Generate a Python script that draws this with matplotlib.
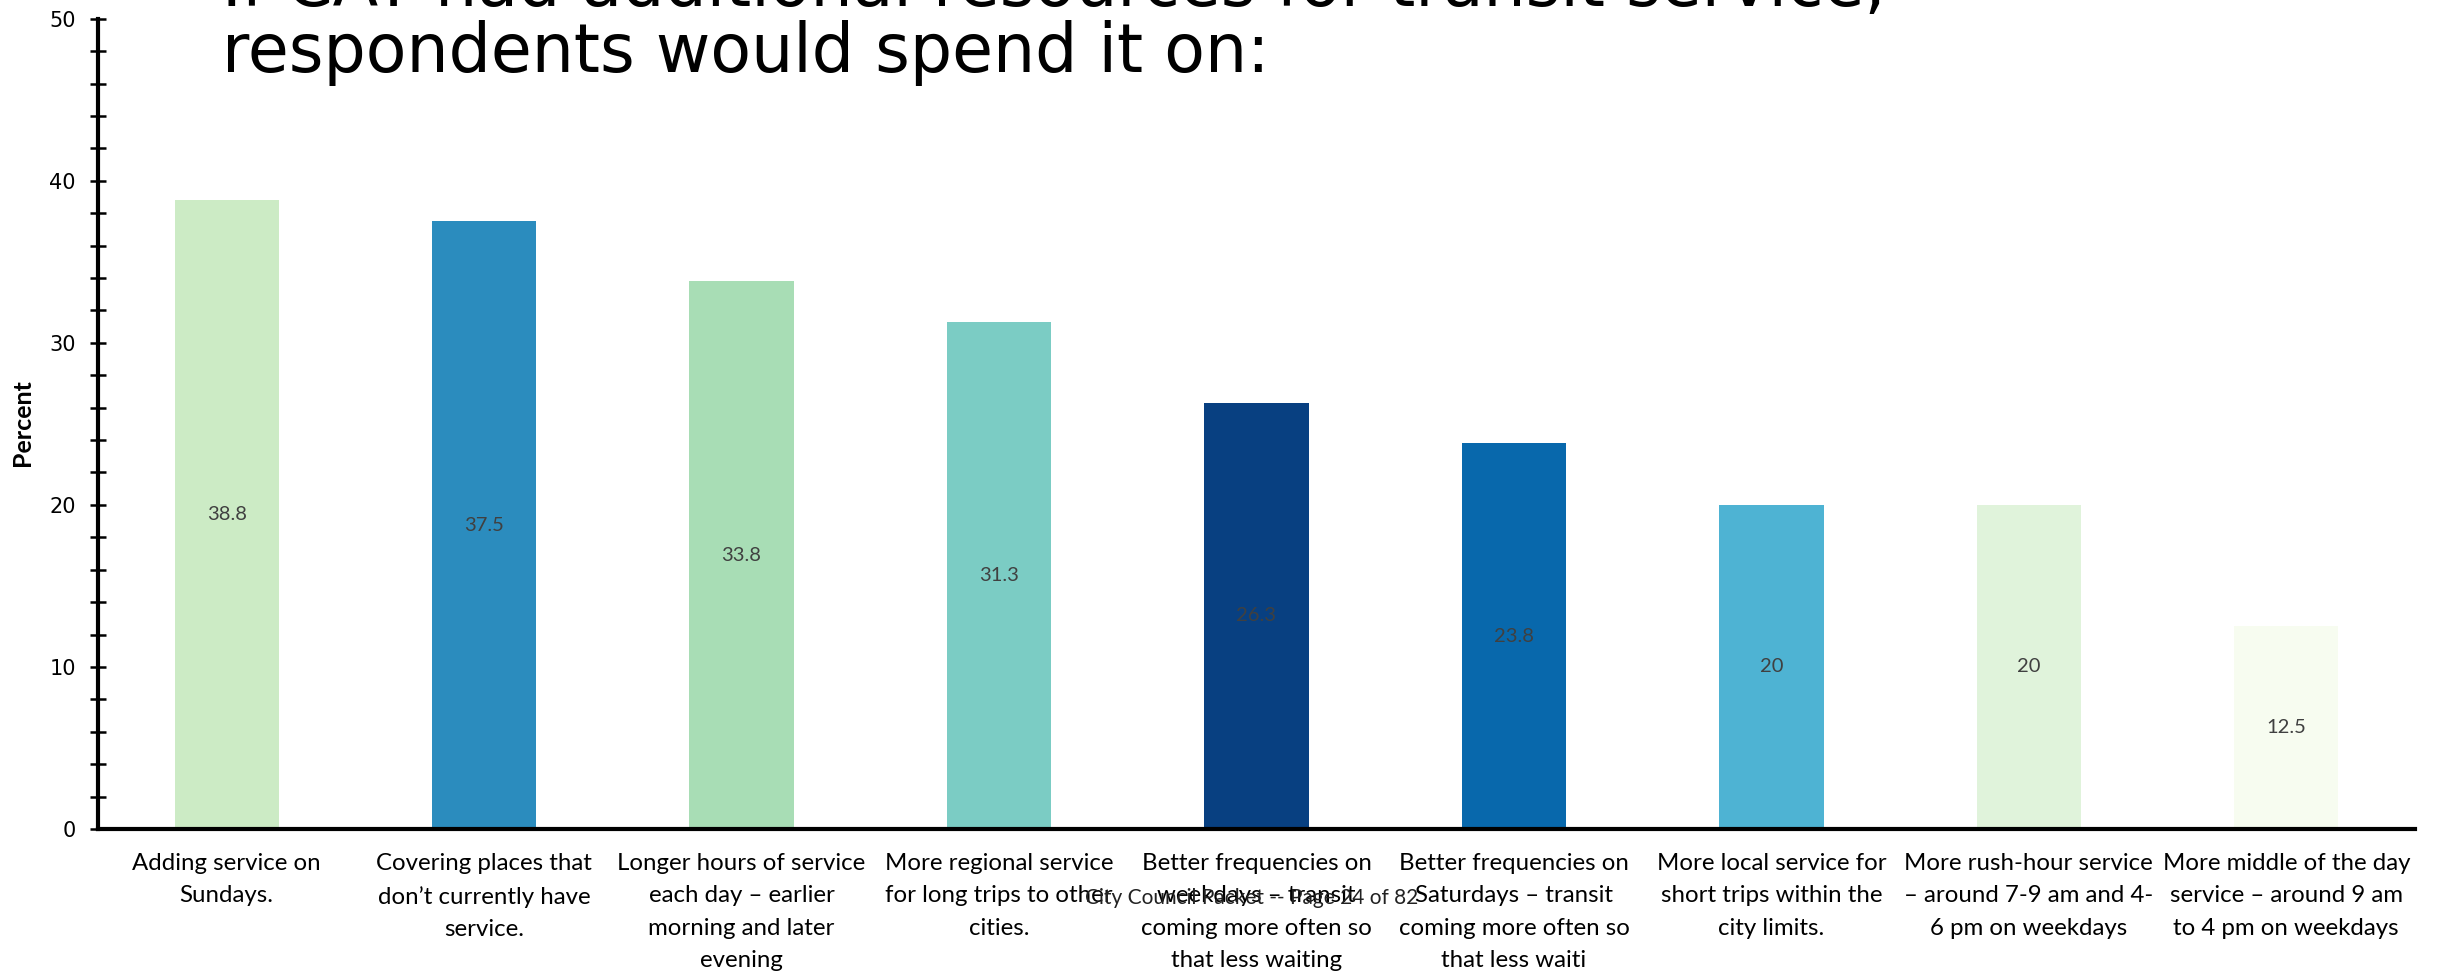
import matplotlib

matplotlib.use("Agg")
import matplotlib.pyplot as plt
from matplotlib.ticker import MultipleLocator

categories = [
    "Adding service on\nSundays.",
    "Covering places that\ndon\u2019t currently have\nservice.",
    "Longer hours of service\neach day \u2013 earlier\nmorning and later\nevening",
    "More regional service\nfor long trips to other\ncities.",
    "Better frequencies on\nweekdays \u2013 transit\ncoming more often so\nthat less waiting",
    "Better frequencies on\nSaturdays \u2013 transit\ncoming more often so\nthat less waiti",
    "More local service for\nshort trips within the\ncity limits.",
    "More rush-hour service\n\u2013 around 7-9 am and 4-\n6 pm on weekdays",
    "More middle of the day\nservice \u2013 around 9 am\nto 4 pm on weekdays",
]
percent = [38.8, 37.5, 33.8, 31.3, 26.3, 23.8, 20, 20, 12.5]
bar_colors = ["#ccebc5", "#2b8cbe", "#a8ddb5", "#7bccc4", "#084081",
              "#0868ac", "#4eb3d3", "#e0f3db", "#f7fcf0"]

title_lines = ["If CAT had additional resources for transit service,",
               "respondents would spend it on:"]
footer = "City Council Packet -- Page 24 of 82"

W, H = 2440, 973
fig = plt.figure(figsize=(W / 100, H / 100), dpi=100)
ax = fig.add_axes([98 / W, 1 - 829 / H, (2415 - 98) / W, (829 - 18.7) / H])

x = range(len(percent))
bars = ax.bar(x, percent, width=0.405, color=bar_colors)
for b, v in zip(bars, percent):
    ax.text(b.get_x() + b.get_width() / 2, v / 2, f"{v:g}",
            ha="center", va="center", fontsize=14.5, color="#404040",
            family="Lato")

ax.set_xlim(-0.5, len(percent) - 0.5)
ax.set_ylim(0, 50)
ax.yaxis.set_major_locator(MultipleLocator(10))
ax.yaxis.set_minor_locator(MultipleLocator(2))
ax.tick_params(axis="y", which="both", direction="inout", length=12,
               width=1.8, labelsize=15, pad=10)
ax.set_xticks(list(x))
ax.set_xticklabels(categories, fontsize=17.3, family="Lato", linespacing=1.68)
ax.tick_params(axis="x", length=0, pad=17)

for side in ("top", "right"):
    ax.spines[side].set_visible(False)
for side in ("left", "bottom"):
    ax.spines[side].set_linewidth(3)

fig.text(22 / W, 1 - 423 / H, "Percent", rotation=90, ha="center",
         va="center", fontsize=18, fontweight="bold", family="Lato")

fig.text(222 / W, 1 - 6 / H, title_lines[0], fontsize=48, va="baseline",
         family="DejaVu Sans")
fig.text(222 / W, 1 - 72 / H, title_lines[1], fontsize=48, va="baseline",
         family="DejaVu Sans")

fig.text(1252 / W, 1 - 898 / H, footer, ha="center", va="center",
         fontsize=15, family="Lato", color="#222222")

fig.savefig("out.png", dpi=100)
